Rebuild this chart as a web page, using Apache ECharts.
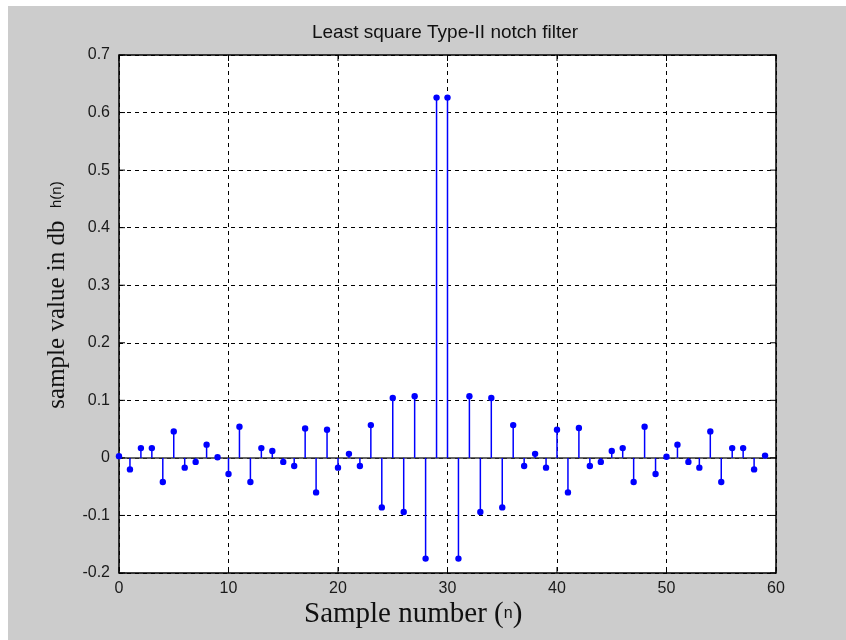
<!DOCTYPE html>
<html>
<head>
<meta charset="utf-8">
<script src="https://cdn.jsdelivr.net/npm/echarts@6/dist/echarts.min.js"></script>
<style>
  html, body { margin: 0; padding: 0; background: #ffffff; }
  #chart { width: 846px; height: 640px; }
</style>
</head>
<body>
<div id="chart"></div>
<script>
// Impulse response h(n) of a length-60 least-squares Type-II notch filter
var sampleIndex = [];
for (var i = 0; i < 60; i++) sampleIndex.push(i);

var sampleValues = [
   0.003, -0.020,  0.017,  0.017, -0.042,  0.046, -0.017, -0.007,  0.023,  0.001,
  -0.028,  0.054, -0.042,  0.017,  0.012, -0.007, -0.014,  0.051, -0.060,  0.049,
  -0.017,  0.007, -0.014,  0.057, -0.086,  0.104, -0.094,  0.107, -0.175,  0.626,
   0.626, -0.175,  0.107, -0.094,  0.104, -0.086,  0.057, -0.014,  0.007, -0.017,
   0.049, -0.060,  0.052, -0.014, -0.007,  0.012,  0.017, -0.042,  0.054, -0.028,
   0.002,  0.023, -0.007, -0.017,  0.046, -0.042,  0.017,  0.017, -0.020,  0.004
];

var xTicks = [0, 10, 20, 30, 40, 50, 60];
var yTicks = [-0.2, -0.1, 0, 0.1, 0.2, 0.3, 0.4, 0.5, 0.6, 0.7];

var titleText = 'Least square Type-II notch filter';
var xLabelMain = 'Sample number (';
var xLabelVar = 'n';
var yLabelMain = 'sample value in db  ';
var yLabelVar = 'h(n)';

var stemData = sampleIndex.map(function (n, k) { return [n, sampleValues[k]]; });

var chart = echarts.init(document.getElementById('chart'), null, { renderer: 'canvas' });

var tickFont = { fontFamily: 'Liberation Sans, Arial, sans-serif', fontSize: 16, color: '#1a1a1a' };

chart.setOption({
  animation: false,
  backgroundColor: '#ffffff',
  graphic: [
    { type: 'rect', z: -10, silent: true,
      shape: { x: 8, y: 6, width: 846, height: 640 },
      style: { fill: '#cccccc' } },
    { type: 'text', silent: true, x: 445, y: 33,
      style: { text: titleText, textAlign: 'center', textVerticalAlign: 'middle',
               font: '19px "Liberation Sans", Arial, sans-serif', fill: '#111' } },
    { type: 'text', silent: true, x: 304, y: 614,
      style: {
        text: '{a|' + xLabelMain + '}{b|' + xLabelVar + '}{a|)}',
        textAlign: 'left', textVerticalAlign: 'middle',
        rich: {
          a: { fontFamily: '"Liberation Serif", "Times New Roman", serif', fontSize: 29, fill: '#111' },
          b: { fontFamily: '"Liberation Sans", Arial, sans-serif', fontSize: 16, fill: '#111' }
        }
      } },
    { type: 'text', silent: true, x: 57, y: 295, rotation: Math.PI / 2,
      style: {
        text: '{a|' + yLabelMain + '}{b|' + yLabelVar + '}',
        textAlign: 'center', textVerticalAlign: 'middle',
        rich: {
          a: { fontFamily: '"Liberation Serif", "Times New Roman", serif', fontSize: 25, fill: '#111' },
          b: { fontFamily: '"Liberation Sans", Arial, sans-serif', fontSize: 15, fill: '#111' }
        }
      } }
  ],
  grid: { left: 119, top: 55, width: 657, height: 518, show: true,
          backgroundColor: '#ffffff', borderWidth: 0 },
  xAxis: {
    type: 'value', min: 0, max: 60, interval: 10, position: 'bottom',
    axisLine: { show: false },
    axisTick: { show: false },
    axisLabel: Object.assign({ margin: 8, formatter: function (v) { return xTicks.indexOf(v) >= 0 ? String(v) : ''; } }, tickFont),
    splitLine: { show: true, lineStyle: { color: '#000', type: [4, 4], width: 1 } }
  },
  yAxis: {
    type: 'value', min: -0.2, max: 0.7, interval: 0.1,
    axisLine: { show: false },
    axisTick: { show: false },
    axisLabel: Object.assign({ margin: 9, formatter: function (v) {
      var r = Math.round(v * 10) / 10;
      return yTicks.indexOf(r) >= 0 ? String(r) : '';
    } }, tickFont),
    splitLine: { show: true, lineStyle: { color: '#000', type: [4, 4], width: 1 } }
  },
  series: [
    {
      // zero baseline plus the box frame with inward ticks
      type: 'custom',
      silent: true,
      data: [[0, 0]],
      z: 3,
      renderItem: function (params, api) {
        var cs = params.coordSys;
        var x0 = cs.x, y0 = cs.y, w = cs.width, h = cs.height;
        var zero = api.coord([0, 0])[1];
        var children = [
          { type: 'line', shape: { x1: x0, y1: zero, x2: x0 + w, y2: zero },
            style: { stroke: '#333', lineWidth: 1.5 } },
          { type: 'rect', shape: { x: x0, y: y0, width: w, height: h },
            style: { fill: null, stroke: '#000', lineWidth: 1.5 } }
        ];
        xTicks.forEach(function (t) {
          var px = api.coord([t, 0])[0];
          children.push({ type: 'line', shape: { x1: px, y1: y0 + h, x2: px, y2: y0 + h - 6 }, style: { stroke: '#000', lineWidth: 1 } });
          children.push({ type: 'line', shape: { x1: px, y1: y0, x2: px, y2: y0 + 6 }, style: { stroke: '#000', lineWidth: 1 } });
        });
        yTicks.forEach(function (t) {
          var py = api.coord([0, t])[1];
          children.push({ type: 'line', shape: { x1: x0, y1: py, x2: x0 + 6, y2: py }, style: { stroke: '#000', lineWidth: 1 } });
          children.push({ type: 'line', shape: { x1: x0 + w, y1: py, x2: x0 + w - 6, y2: py }, style: { stroke: '#000', lineWidth: 1 } });
        });
        return { type: 'group', children: children };
      }
    },
    {
      // stems: vertical line from zero to the sample value, capped by a dot
      type: 'custom',
      data: stemData,
      z: 5,
      renderItem: function (params, api) {
        var top = api.coord([api.value(0), api.value(1)]);
        var base = api.coord([api.value(0), 0]);
        return {
          type: 'group',
          children: [
            { type: 'line', shape: { x1: top[0], y1: base[1], x2: top[0], y2: top[1] },
              style: { stroke: '#0000ff', lineWidth: 1.5 } },
            { type: 'circle', shape: { cx: top[0], cy: top[1], r: 3.2 },
              style: { fill: '#0000ff', stroke: null } }
          ]
        };
      }
    }
  ]
});
</script>
</body>
</html>
